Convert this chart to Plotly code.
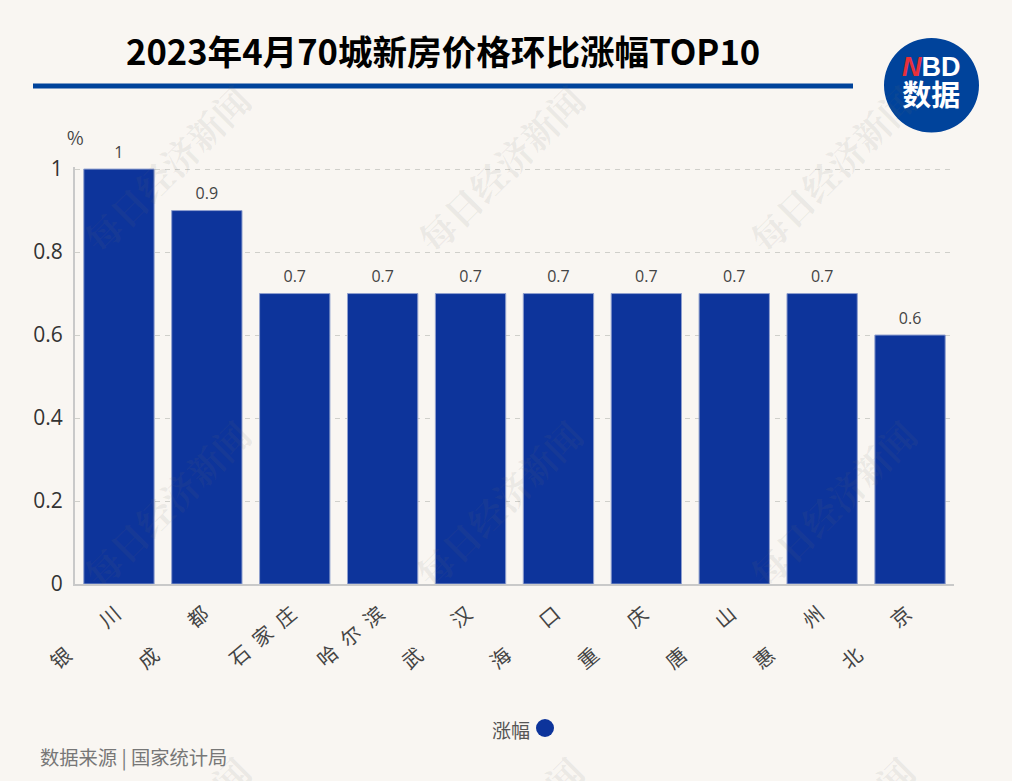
import plotly.graph_objects as go

categories = [
    "银　　\u2009川\u2009", "成　　\u2009都\u2009",
    "石\u2002家\u2002庄\u2009",
    "哈\u2002尔\u2002滨\u2009",
    "武　　\u2009汉\u2009", "海　　\u2009口\u2009", "重　　\u2009庆\u2009",
    "唐　　\u2009山\u2009", "惠　　\u2009州\u2009", "北　　\u2009京\u2009",
]
values = [1, 0.9, 0.7, 0.7, 0.7, 0.7, 0.7, 0.7, 0.7, 0.6]
y_ticks = [0, 0.2, 0.4, 0.6, 0.8, 1]
y_labels = ["0", "0.2", "0.4", "0.6", "0.8", "1"]
title_text = "2023年4月70城新房价格环比涨幅TOP10"
source_text = "数据来源 | 国家统计局"
series_name = "涨幅"
unit = "%"
watermark = "每日经济新闻"
watermark_end = "闻"
watermark_spots = [(166, 168), (500, 168), (832, 168), (166, 503), (498, 503), (832, 503)]
watermark_end_spots = [(230, 776), (563, 776), (894, 776)]

W, H = 1012, 781
CJK = "Noto Sans CJK SC"
SERIF = "Noto Serif CJK SC, Noto Sans CJK SC"
BG = "#f9f6f2"
BLUE = "#0d349b"
LINE = "#00439b"
L, R, T, B = 75, 954, 167, 584


def sx(x): return (x - L) / (R - L)
def sy(y): return (B - y) / (B - T)


fig = go.Figure()
fig.add_trace(go.Bar(
    x=categories, y=values, name=series_name, width=0.8,
    marker=dict(color=BLUE, line=dict(color="#8f9fce", width=1)),
))
fig.add_trace(go.Scatter(
    x=categories, y=values, mode="markers+text", text=[str(v) for v in values],
    textposition="top center", cliponaxis=False, hoverinfo="skip",
    marker=dict(size=10, opacity=0),
    textfont=dict(family="Open Sans", size=16, color="#444444"),
))

ann = []
for x, y in watermark_spots:
    ann.append(dict(xref="paper", yref="paper", x=sx(x), y=sy(y), xanchor="center", yanchor="middle",
                    text=f"<b>{watermark}</b>", showarrow=False, textangle=-45,
                    font=dict(family=SERIF, size=36, color="rgba(110,110,110,0.10)")))
for x, y in watermark_end_spots:
    ann.append(dict(xref="paper", yref="paper", x=sx(x), y=sy(y), xanchor="center", yanchor="middle",
                    text=f"<b>{watermark_end}</b>", showarrow=False, textangle=-45,
                    font=dict(family=SERIF, size=36, color="rgba(110,110,110,0.10)")))


def px(x, y, text, size, color, anchor="left", bold=False, family=CJK):
    t = f"<b>{text}</b>" if bold else text
    ann.append(dict(xref="paper", yref="paper", x=sx(x), y=sy(y),
                    text=t, showarrow=False, xanchor=anchor, yanchor="middle",
                    font=dict(family=family, size=size, color=color)))


px(443, 50, title_text, 34.6, "#000000", "center", True)
px(75, 137, unit, 18, "#444444", "center")
px(511, 729, series_name, 19, "#555555", "center")
px(38, 757, source_text, 19.3, "#777777", "left")
px(931, 83,
   "<b><span style='font-size:27px;font-family:Liberation Sans'><i><span style='color:#e8303a'>N</span></i>BD</span>"
   "<br><span style='font-size:29px'>数据</span></b>",
   23, "#ffffff", "center")

shapes = [
    dict(type="rect", xref="paper", yref="paper", x0=sx(33), x1=sx(853), y0=sy(83.5), y1=sy(88.5),
         fillcolor=LINE, line_width=0),
    dict(type="circle", xref="paper", yref="paper", x0=sx(884), x1=sx(979), y0=sy(38), y1=sy(132.5),
         fillcolor=LINE, line_width=0, layer="below"),
    dict(type="circle", xref="paper", yref="paper", x0=sx(536), x1=sx(554), y0=sy(719), y1=sy(737),
         fillcolor=BLUE, line_width=0),
]

fig.update_layout(
    width=W, height=H, autosize=False,
    paper_bgcolor=BG, plot_bgcolor=BG,
    margin=dict(l=L, r=W - R, t=T, b=H - B),
    showlegend=False, annotations=ann, shapes=shapes,
    font=dict(family=CJK),
    xaxis=dict(type="category", range=[-0.5, 9.5], tickangle=-40, showgrid=False,
               ticks="outside", ticklen=6, tickcolor=BG,
               showline=True, linecolor="#c9c9c9", linewidth=2,
               tickfont=dict(family=CJK, size=20, color="#444444")),
    yaxis=dict(range=[0, 1.005], tickvals=y_ticks, ticktext=y_labels, zeroline=False,
               showgrid=True, gridcolor="#d0d0cb", griddash="5px,5px", gridwidth=1,
               showline=True, linecolor="#c9c9c9", linewidth=2, ticks="outside", ticklen=6, tickcolor=BG,
               tickfont=dict(family="Open Sans", size=21, color="#333333")),
)

fig.write_html("out.html", post_script="document.body.style.margin='0';",
               config=dict(displayModeBar=False))
